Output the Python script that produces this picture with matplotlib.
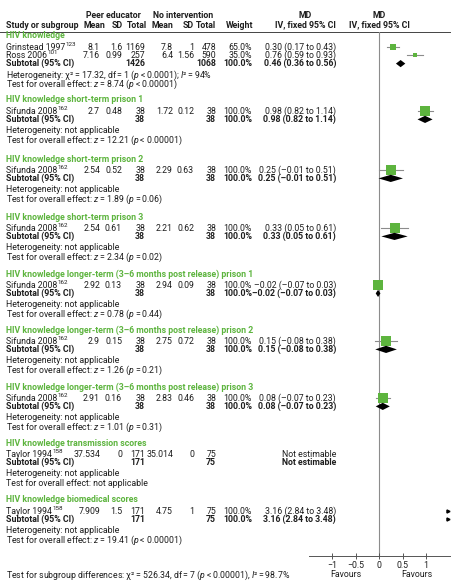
import matplotlib
matplotlib.use("Agg")
import matplotlib.pyplot as plt
from matplotlib import font_manager as fm

# ---- data ----
group_names = [
    "HIV knowledge",
    "HIV knowledge short-term prison 1",
    "HIV knowledge short-term prison 2",
    "HIV knowledge short-term prison 3",
    "HIV knowledge longer-term (3\u20136 months post release) prison 1",
    "HIV knowledge longer-term (3\u20136 months post release) prison 2",
    "HIV knowledge longer-term (3\u20136 months post release) prison 3",
    "HIV knowledge transmission scores",
    "HIV knowledge biomedical scores",
]
study_names = [["Grinstead", "Ross"], ["Sifunda"], ["Sifunda"], ["Sifunda"], ["Sifunda"],
               ["Sifunda"], ["Sifunda"], ["Taylor"], ["Taylor"]]
study_years = [["1997", "2006"], ["2008"], ["2008"], ["2008"], ["2008"], ["2008"], ["2008"],
               ["1994"], ["1994"]]
study_refs = [["123", "101"], ["162"], ["162"], ["162"], ["162"], ["162"], ["162"],
              ["158"], ["158"]]
peer_mean = [["8.1", "7.16"], ["2.7"], ["2.54"], ["2.54"], ["2.92"], ["2.9"], ["2.91"],
             ["37.534"], ["7.909"]]
peer_sd = [["1.6", "0.99"], ["0.48"], ["0.52"], ["0.61"], ["0.13"], ["0.15"], ["0.16"],
           ["0"], ["1.5"]]
peer_n = [[1169, 257], [38], [38], [38], [38], [38], [38], [171], [171]]
ctrl_mean = [["7.8", "6.4"], ["1.72"], ["2.29"], ["2.21"], ["2.94"], ["2.75"], ["2.83"],
             ["35.014"], ["4.75"]]
ctrl_sd = [["1", "1.56"], ["0.12"], ["0.63"], ["0.62"], ["0.09"], ["0.72"], ["0.46"],
           ["0"], ["1"]]
ctrl_n = [[478, 590], [38], [38], [38], [38], [38], [38], [75], [75]]
weights = [[65.0, 35.0], [100.0], [100.0], [100.0], [100.0], [100.0], [100.0],
           [None], [100.0]]
md = [[0.30, 0.76], [0.98], [0.25], [0.33], [-0.02], [0.15], [0.08], [None], [3.16]]
md_lo = [[0.17, 0.59], [0.82], [-0.01], [0.05], [-0.07], [-0.08], [-0.07], [None], [2.84]]
md_hi = [[0.43, 0.93], [1.14], [0.51], [0.61], [0.03], [0.38], [0.23], [None], [3.48]]

sub_peer_n = [1426, 38, 38, 38, 38, 38, 38, 171, 171]
sub_ctrl_n = [1068, 38, 38, 38, 38, 38, 38, 75, 75]
sub_weight = [100.0, 100.0, 100.0, 100.0, 100.0, 100.0, 100.0, None, 100.0]
sub_md = [0.46, 0.98, 0.25, 0.33, -0.02, 0.15, 0.08, None, 3.16]
sub_lo = [0.36, 0.82, -0.01, 0.05, -0.07, -0.08, -0.07, None, 2.84]
sub_hi = [0.56, 1.14, 0.51, 0.61, 0.03, 0.38, 0.23, None, 3.48]

TS = "\u2009"  # thin space
het_text = ["\u03c7\u00b2" + TS + "=" + TS + "17.32, df" + TS + "=" + TS + "1 ($p$" + TS + "<" + TS
            + "0.0001); $I$\u00b2" + TS + "=" + TS + "94%"] + ["not applicable"] * 8
z_vals = ["8.74", "12.21", "1.89", "2.34", "0.78", "1.26", "1.01", None, "19.41"]
p_vals = ["<0.00001", "<0.00001", "=0.06", "=0.02", "=0.44", "=0.21", "=0.31", None,
          "<0.00001"]
subgroup_test = ("Test for subgroup differences: \u03c7\u00b2" + TS + "=" + TS + "526.34, df" + TS
                 + "=" + TS + "7 ($p$" + TS + "<" + TS + "0.00001), $I$\u00b2" + TS + "=" + TS
                 + "98.7%")

xticks = [-1, -0.5, 0, 0.5, 1]
xtick_labels = ["\u22121", "\u22120.5", "0", "0.5", "1"]

# ---- style ----
names = {f.name for f in fm.fontManager.ttflist}
FONT = "DejaVu Sans"
for fam in ["Liberation Sans Narrow", "Roboto"]:
    if fam in names:
        FONT = fam
        break
plt.rcParams["font.family"] = [FONT, "DejaVu Sans"]
plt.rcParams["mathtext.fontset"] = "custom"
plt.rcParams["mathtext.rm"] = FONT
plt.rcParams["mathtext.it"] = FONT + ":italic"
plt.rcParams["mathtext.bf"] = FONT + ":bold"

GREEN = "#5db43e"
TXT = "#1e1e1e"
GREY = "#8c8c8c"

W, H = 453, 581
fig = plt.figure(figsize=(W / 100, H / 100), dpi=100)
tx = fig.add_axes([0, 0, 1, 1])
tx.set_xlim(0, W)
tx.set_ylim(H, 0)
tx.axis("off")

# pick a font size so that some reference strings get their measured widths
rend = fig.canvas.get_renderer()


def width_at(s, size):
    tt = tx.text(0, 0, s, fontsize=size)
    w = tt.get_window_extent(renderer=rend).width
    tt.remove()
    return w


probes = [("Test for overall effect: z" + TS + "=" + TS + "8.74 (p" + TS + "<" + TS + "0.00001)", 169),
          ("0.30 (0.17 to 0.43)", 70),
          ("Heterogeneity: not applicable", 117)]
ratios = [target / width_at(s, 10) for s, target in probes]
FS = 10 * sum(ratios) / len(ratios)

AX_TOP, AX_BOT = 32, 556
X0, X1 = 308.5, 449.5
ax = fig.add_axes([X0 / W, (H - AX_BOT) / H, (X1 - X0) / W, (AX_BOT - AX_TOP) / H])
ax.set_xlim(-1.5, 1.5)
ax.set_ylim(AX_BOT, AX_TOP)
ax.patch.set_visible(False)
for s in ["left", "top", "right"]:
    ax.spines[s].set_visible(False)
ax.spines["bottom"].set_color("#555555")
ax.spines["bottom"].set_linewidth(0.7)
ax.set_yticks([])
ax.set_xticks(xticks)
ax.set_xticklabels(xtick_labels, fontsize=FS, color=TXT)
ax.tick_params(axis="x", direction="inout", length=4, width=0.7, color="#555555", pad=1.5)
ax.axvline(0, color=GREY, lw=0.8, zorder=1)


def t(x, y, s, ha="left", bold=False, color=TXT, size=None):
    return tx.text(x, y, s, ha=ha, va="center", fontsize=size or FS, color=color,
                   fontweight="bold" if bold else "normal")


def fmt(v):
    return f"{v:.2f}".replace("-", "\u2013")


# header
t(113, 16, "Peer educator", ha="center", bold=True)
t(183, 16, "No intervention", ha="center", bold=True)
t(305, 16, "MD", ha="center", bold=True)
t(379, 16, "MD", ha="center", bold=True)
t(6, 25, "Study or subgroup", bold=True)
for xx, lab in [(105, "Mean"), (123, "SD"), (147, "Total"), (173, "Mean"), (194, "SD"),
                (216, "Total"), (253, "Weight"), (336, "IV, fixed 95% CI")]:
    t(xx, 25, lab, ha="right", bold=True)
t(379, 25, "IV, fixed 95% CI", ha="center", bold=True)
tx.plot([0, 450], [32, 32], color="#444444", lw=0.7)

COLS = [100, 122, 145, 173, 194, 216, 252, 336]
GROUP_Y = [36, 100, 159, 217, 274, 330, 387, 443, 500]
xmax = ax.get_xlim()[1]

for g in range(len(group_names)):
    y = GROUP_Y[g]
    t(6, y, group_names[g], bold=True, color=GREEN)
    y += 11.2
    for k in range(len(study_names[g])):
        nm = t(6, y, study_names[g][k] + " " + study_years[g][k])
        nw = nm.get_window_extent(renderer=rend).width
        t(6 + nw + 0.4, y - 2.6, study_refs[g][k], size=FS * 0.72)
        vals = [peer_mean[g][k], peer_sd[g][k], str(peer_n[g][k]),
                ctrl_mean[g][k], ctrl_sd[g][k], str(ctrl_n[g][k])]
        for xx, v in zip(COLS[:6], vals):
            t(xx, y, v, ha="right")
        w = weights[g][k]
        if w is not None:
            t(COLS[6], y, f"{w:.1f}%", ha="right")
            t(COLS[7], y, f"{fmt(md[g][k])} ({fmt(md_lo[g][k])} to {fmt(md_hi[g][k])})",
              ha="right")
            if md_lo[g][k] > xmax:
                ax.plot(xmax - 0.03, y, marker=">", ms=2.2, color="black", clip_on=False)
            else:
                ax.plot([md_lo[g][k], md_hi[g][k]], [y, y], color=GREY, lw=0.8, zorder=2)
                side = (0.6 + 9.4 * w / 100) * 0.72
                ax.plot(md[g][k], y, marker="s", ms=side, color=GREEN, mec=GREEN,
                        mew=0, zorder=3)
        else:
            t(COLS[7], y, "Not estimable", ha="right")
        y += 8.2
    # subtotal
    t(6, y, "Subtotal (95% CI)", bold=True)
    t(COLS[2], y, str(sub_peer_n[g]), ha="right", bold=True)
    t(COLS[5], y, str(sub_ctrl_n[g]), ha="right", bold=True)
    if sub_weight[g] is not None:
        t(COLS[6], y, f"{sub_weight[g]:.1f}%", ha="right", bold=True)
        t(COLS[7], y, f"{fmt(sub_md[g])} ({fmt(sub_lo[g])} to {fmt(sub_hi[g])})",
          ha="right", bold=True)
        if sub_lo[g] > xmax:
            ax.plot(xmax - 0.03, y, marker=">", ms=2.2, color="black", clip_on=False)
        else:
            ax.fill([sub_lo[g], sub_md[g], sub_hi[g], sub_md[g]],
                    [y, y - 3.6, y, y + 3.6], color="black", lw=0, zorder=4)
    else:
        t(COLS[7], y, "Not estimable", ha="right", bold=True)
    y += 11.5
    t(6, y, "Heterogeneity: " + het_text[g])
    y += 9.3
    if z_vals[g] is None:
        ztxt = "not applicable"
    else:
        ztxt = ("$z$" + TS + "=" + TS + z_vals[g] + " ($p$" + TS + p_vals[g][0] + TS
                + p_vals[g][1:] + ")")
    t(6, y, "Test for overall effect: " + ztxt)

ax.text(-0.7, 574, "Favours", ha="center", va="center", fontsize=FS, color=TXT, clip_on=False)
ax.text(0.8, 574, "Favours", ha="center", va="center", fontsize=FS, color=TXT, clip_on=False)
t(6, 575.5, subgroup_test)

fig.savefig("out.png", dpi=100)
